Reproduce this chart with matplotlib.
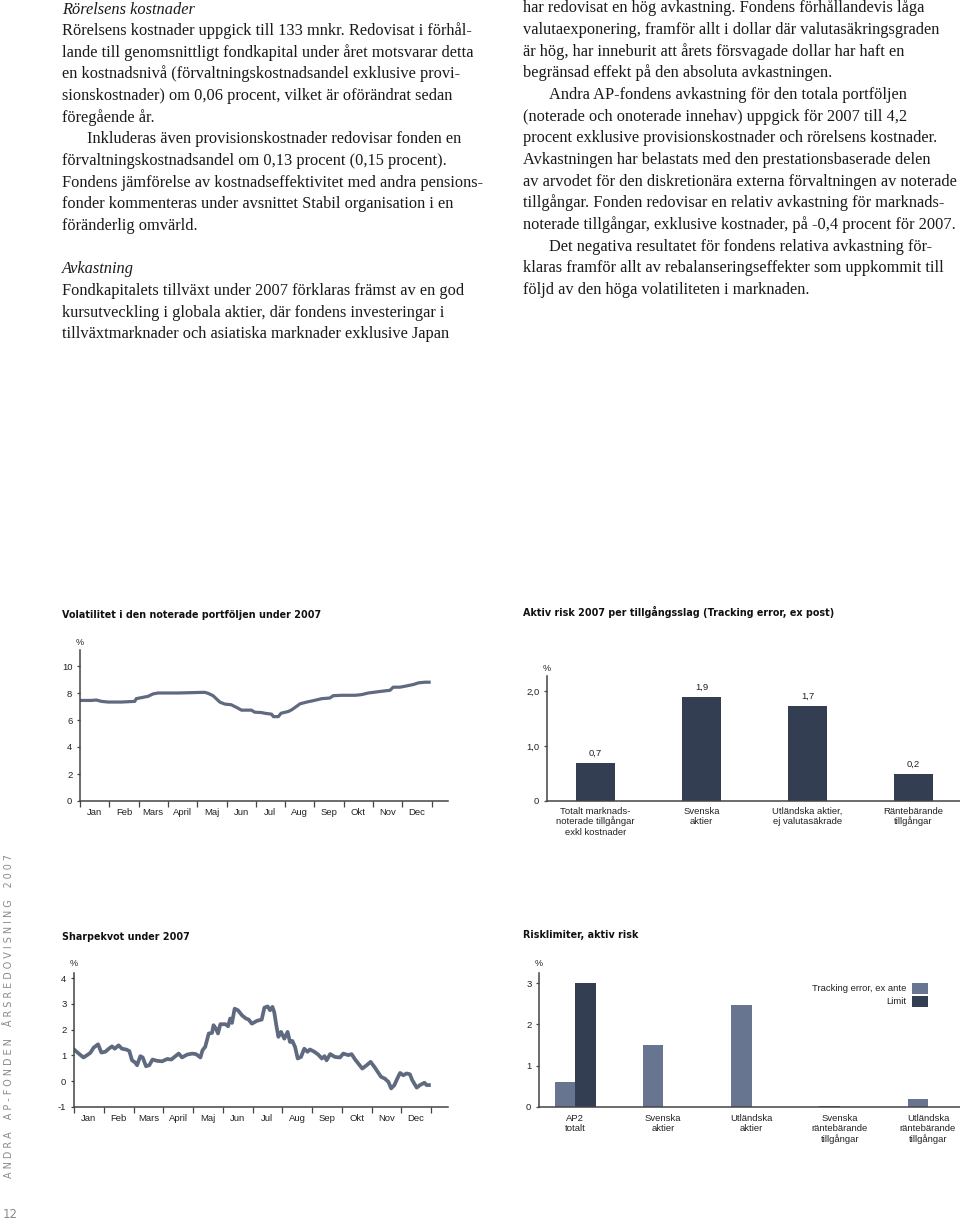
import matplotlib
matplotlib.use("Agg")
import matplotlib.pyplot as plt
from matplotlib.patches import Rectangle
import numpy as np

W, H = 960, 1221
fig = plt.figure(figsize=(W / 100, H / 100), dpi=100)
fig.patch.set_facecolor("white")

LINE = "#5f6a80"
LIGHT = "#687590"
DARK = "#343e52"
AXC = "#444444"
TXT = "#222222"
SANS = ["Liberation Sans", "DejaVu Sans"]
TITLE_FONT = ["DejaVu Sans"]
SERIF = ["Liberation Serif", "DejaVu Serif"]

# ---------------- data ----------------
months = ["Jan", "Feb", "Mars", "April", "Maj", "Jun", "Jul", "Aug", "Sep", "Okt", "Nov", "Dec"]

vol_x = [0.0, 0.39, 0.56, 0.73, 0.96, 1.41, 1.87, 1.92, 2.15, 2.32, 2.49, 2.66, 3.34, 4.25,
         4.37, 4.54, 4.65, 4.77, 4.94, 5.16, 5.28, 5.39, 5.51, 5.85, 5.96, 6.19, 6.31, 6.54,
         6.60, 6.77, 6.86, 7.11, 7.22, 7.34, 7.51, 7.74, 7.96, 8.25, 8.53, 8.64, 8.92, 9.39,
         9.61, 9.84, 10.30, 10.58, 10.69, 10.92, 11.09, 11.38, 11.55, 11.77, 11.97]
vol_y = [7.45, 7.45, 7.48, 7.38, 7.33, 7.33, 7.38, 7.58, 7.68, 7.75, 7.93, 8.0, 8.0, 8.05,
         7.98, 7.80, 7.58, 7.33, 7.18, 7.13, 7.0, 6.88, 6.73, 6.73, 6.58, 6.55, 6.50, 6.43,
         6.25, 6.25, 6.50, 6.63, 6.75, 6.93, 7.20, 7.33, 7.43, 7.58, 7.63, 7.80, 7.83, 7.83,
         7.88, 8.0, 8.13, 8.2, 8.43, 8.43, 8.5, 8.63, 8.75, 8.8, 8.8]

sharpe_x = [0.0, 0.16, 0.32, 0.44, 0.55, 0.66, 0.81, 0.92, 1.05, 1.17, 1.28, 1.37, 1.50, 1.61,
            1.75, 1.86, 1.95, 2.06, 2.12, 2.23, 2.31, 2.42, 2.53, 2.64, 2.79, 2.96, 3.13, 3.27,
            3.41, 3.52, 3.63, 3.80, 3.97, 4.10, 4.25, 4.32, 4.41, 4.53, 4.64, 4.69, 4.77, 4.84,
            4.92, 5.09, 5.18, 5.25, 5.31, 5.40, 5.51, 5.65, 5.78, 5.87, 5.98, 6.15, 6.31, 6.40,
            6.51, 6.59, 6.67, 6.73, 6.81, 6.87, 6.96, 7.07, 7.18, 7.26, 7.34, 7.43, 7.52, 7.63,
            7.74, 7.85, 7.93, 8.08, 8.21, 8.33, 8.42, 8.49, 8.61, 8.77, 8.94, 9.05, 9.22, 9.33,
            9.45, 9.56, 9.69, 9.84, 9.97, 10.10, 10.21, 10.32, 10.45, 10.57, 10.66, 10.77, 10.85,
            10.96, 11.07, 11.18, 11.29, 11.37, 11.52, 11.63, 11.78, 11.85, 11.93]
sharpe_y = [1.23, 1.07, 0.92, 1.01, 1.10, 1.30, 1.43, 1.11, 1.14, 1.26, 1.35, 1.26, 1.39, 1.26,
            1.23, 1.17, 0.81, 0.72, 0.62, 0.97, 0.92, 0.58, 0.62, 0.84, 0.79, 0.77, 0.86, 0.84,
            0.97, 1.07, 0.92, 1.03, 1.07, 1.05, 0.92, 1.20, 1.33, 1.85, 1.87, 2.17, 2.04, 1.85,
            2.21, 2.21, 2.13, 2.43, 2.26, 2.81, 2.75, 2.55, 2.43, 2.39, 2.23, 2.34, 2.39, 2.85,
            2.90, 2.75, 2.88, 2.68, 2.10, 1.72, 1.91, 1.65, 1.91, 1.52, 1.56, 1.33, 0.88, 0.94,
            1.26, 1.14, 1.23, 1.14, 1.03, 0.88, 0.97, 0.81, 1.05, 0.94, 0.92, 1.07, 1.01, 1.05,
            0.84, 0.68, 0.49, 0.62, 0.75, 0.55, 0.36, 0.17, 0.10, -0.03, -0.28, -0.15, 0.06,
            0.32, 0.23, 0.30, 0.27, 0.04, -0.25, -0.15, -0.06, -0.15, -0.15]

risk_cats = ["Totalt marknads-\nnoterade tillgångar\nexkl kostnader", "Svenska\naktier",
             "Utländska aktier,\nej valutasäkrade", "Räntebärande\ntillgångar"]
risk_heights = [0.7, 1.9, 1.73, 0.49]
risk_labels = ["0,7", "1,9", "1,7", "0,2"]

limit_cats = ["AP2\ntotalt", "Svenska\naktier", "Utländska\naktier",
              "Svenska\nräntebärande\ntillgångar", "Utländska\nräntebärande\ntillgångar"]
tracking_error = [0.6, 1.5, 2.47, 0.03, 0.2]
limit = [3.0, 0, 0, 0, 0]

left_text = [
    ("Rörelsens kostnader", "italic", 0),
    ("Rörelsens kostnader uppgick till 133 mnkr. Redovisat i förhål-", "normal", 0),
    ("lande till genomsnittligt fondkapital under året motsvarar detta", "normal", 0),
    ("en kostnadsnivå (förvaltningskostnadsandel exklusive provi-", "normal", 0),
    ("sionskostnader) om 0,06 procent, vilket är oförändrat sedan", "normal", 0),
    ("föregående år.", "normal", 0),
    ("Inkluderas även provisionskostnader redovisar fonden en", "normal", 1),
    ("förvaltningskostnadsandel om 0,13 procent (0,15 procent).", "normal", 0),
    ("Fondens jämförelse av kostnadseffektivitet med andra pensions-", "normal", 0),
    ("fonder kommenteras under avsnittet Stabil organisation i en", "normal", 0),
    ("föränderlig omvärld.", "normal", 0),
    ("", "normal", 0),
    ("Avkastning", "italic", 0),
    ("Fondkapitalets tillväxt under 2007 förklaras främst av en god", "normal", 0),
    ("kursutveckling i globala aktier, där fondens investeringar i", "normal", 0),
    ("tillväxtmarknader och asiatiska marknader exklusive Japan", "normal", 0),
]
right_text = [
    ("har redovisat en hög avkastning. Fondens förhållandevis låga", 0),
    ("valutaexponering, framför allt i dollar där valutasäkringsgraden", 0),
    ("är hög, har inneburit att årets försvagade dollar har haft en", 0),
    ("begränsad effekt på den absoluta avkastningen.", 0),
    ("Andra AP-fondens avkastning för den totala portföljen", 1),
    ("(noterade och onoterade innehav) uppgick för 2007 till 4,2", 0),
    ("procent exklusive provisionskostnader och rörelsens kostnader.", 0),
    ("Avkastningen har belastats med den prestationsbaserade delen", 0),
    ("av arvodet för den diskretionära externa förvaltningen av noterade", 0),
    ("tillgångar. Fonden redovisar en relativ avkastning för marknads-", 0),
    ("noterade tillgångar, exklusive kostnader, på -0,4 procent för 2007.", 0),
    ("Det negativa resultatet för fondens relativa avkastning för-", 1),
    ("klaras framför allt av rebalanseringseffekter som uppkommit till", 0),
    ("följd av den höga volatiliteten i marknaden.", 0),
]


# ---------------- helpers ----------------
def px_axes(l, t, r, b):
    return fig.add_axes([l / W, 1 - b / H, (r - l) / W, (b - t) / H])


def ftext(x, y, s, **kw):
    return fig.text(x / W, 1 - y / H, s, **kw)


def style_axes(ax):
    for s in ["top", "right"]:
        ax.spines[s].set_visible(False)
    for s in ["left", "bottom"]:
        ax.spines[s].set_color(AXC)
        ax.spines[s].set_linewidth(1.1)
    ax.tick_params(axis="y", length=2.5, width=0.9, color=AXC, pad=3, labelsize=6.8,
                   labelcolor=TXT)
    ax.set_facecolor("none")
    for lab in ax.get_yticklabels():
        lab.set_family(SANS)


def month_axis(ax):
    ax.set_xticks(np.arange(0, 13))
    ax.set_xticklabels([])
    ax.set_xticks(np.arange(12) + 0.5, minor=True)
    ax.set_xticklabels(months, minor=True, fontsize=6.8, color=TXT, family=SANS)
    ax.tick_params(axis="x", which="major", length=4.5, width=0.9, color=AXC, direction="out")
    ax.tick_params(axis="x", which="minor", length=0, pad=5)


# ---------------- body text ----------------
BODY = 11.8
LS = 21.65
for i, (s, st, ind) in enumerate(left_text):
    if s:
        ftext(62 + 25 * ind, 13.5 + i * LS, s, family=SERIF, style=st, fontsize=BODY,
              color="#1a1a1a", va="baseline", ha="left")
for i, (s, ind) in enumerate(right_text):
    ftext(523 + 26 * ind, 12.5 + i * LS, s, family=SERIF, fontsize=BODY,
          color="#1a1a1a", va="baseline", ha="left")

# ---------------- chart 1: volatility ----------------
ftext(62, 618, "Volatilitet i den noterade portföljen under 2007", family=TITLE_FONT,
      weight="bold", fontsize=6.9, color="#111111", va="baseline")
ax1 = px_axes(80, 650, 448, 801)
ax1.plot(vol_x, vol_y, color=LINE, lw=2.3, solid_capstyle="butt")
ax1.set_xlim(0, (448 - 80) / 29.3)
ax1.set_ylim(0, (801 - 650) / 13.5)
ax1.set_yticks([0, 2, 4, 6, 8, 10])
ax1.set_yticklabels(["0", "2", "4", "6", "8", "10"])
style_axes(ax1)
month_axis(ax1)
ftext(80, 645, "%", family=SANS, fontsize=6.5, color=TXT, ha="center", va="baseline")

# ---------------- chart 2: sharpe ----------------
ftext(62, 940, "Sharpekvot under 2007", family=TITLE_FONT, weight="bold", fontsize=6.9,
      color="#111111", va="baseline")
ax2 = px_axes(74, 973, 448, 1107)
ax2.plot(sharpe_x, sharpe_y, color=LINE, lw=2.7, solid_joinstyle="round")
ax2.set_xlim(0, (448 - 74) / 29.75)
ax2.set_ylim(-1, 4 + 5 / 25.8)
ax2.set_yticks([-1, 0, 1, 2, 3, 4])
ax2.set_yticklabels(["-1", "0", "1", "2", "3", "4"])
style_axes(ax2)
month_axis(ax2)
ftext(74, 966, "%", family=SANS, fontsize=6.5, color=TXT, ha="center", va="baseline")

# ---------------- chart 3: aktiv risk ----------------
ftext(523, 616, "Aktiv risk 2007 per tillgångsslag (Tracking error, ex post)",
      family=TITLE_FONT, weight="bold", fontsize=6.9, color="#111111", va="baseline")
ax3 = px_axes(547, 676, 960, 801)
xr = np.arange(len(risk_heights))
ax3.bar(xr, risk_heights, width=0.37, color=DARK)
for xi, h, lab in zip(xr, risk_heights, risk_labels):
    ax3.annotate(lab, (xi, h), xytext=(0, 3.5), textcoords="offset points", ha="center",
                 va="bottom", fontsize=6.8, color=TXT, family=SANS)
ax3.set_xlim(-48.5 / 106, 3 + (413 - 366.5) / 106)
ax3.set_ylim(0, (801 - 676) / 55)
ax3.set_yticks([0, 1, 2])
ax3.set_yticklabels(["0", "1,0", "2,0"])
style_axes(ax3)
ax3.set_xticks(xr)
ax3.set_xticklabels(risk_cats, fontsize=6.8, color=TXT, family=SANS, linespacing=1.15,
                    va="top")
ax3.tick_params(axis="x", length=0, pad=4)
ftext(547, 671, "%", family=SANS, fontsize=6.5, color=TXT, ha="center", va="baseline")

# ---------------- chart 4: risklimiter ----------------
ftext(523, 938, "Risklimiter, aktiv risk", family=TITLE_FONT, weight="bold", fontsize=6.9,
      color="#111111", va="baseline")
ax4 = px_axes(539, 973, 960, 1107)
xg = np.arange(len(tracking_error))
unit = 88.25
bw = 20.5 / unit
ax4.bar(xg, tracking_error, width=-bw, align="edge", color=LIGHT)
ax4.bar(xg, limit, width=bw, align="edge", color=DARK)
ax4.set_xlim(-(575 - 539) / unit, 4 + (960 - 928) / unit)
ax4.set_ylim(0, (1107 - 973) / 41.3)
ax4.set_yticks([0, 1, 2, 3])
ax4.set_yticklabels(["0", "1", "2", "3"])
style_axes(ax4)
ax4.set_xticks(xg)
ax4.set_xticklabels(limit_cats, fontsize=6.8, color=TXT, family=SANS, linespacing=1.15,
                    va="top")
ax4.tick_params(axis="x", length=0, pad=5)
ftext(539, 966, "%", family=SANS, fontsize=6.5, color=TXT, ha="center", va="baseline")

# legend
for (lab, col, yc) in [("Tracking error, ex ante", LIGHT, 988.5), ("Limit", DARK, 1001.5)]:
    ftext(906, yc, lab, family=SANS, fontsize=6.8, color=TXT, ha="right", va="center")
    fig.add_artist(Rectangle((912 / W, 1 - (yc + 5.5) / H), 16 / W, 11 / H,
                             transform=fig.transFigure, color=col, lw=0))

# ---------------- side text & page number ----------------
side = "A N D R A    A P - F O N D E N    Å R S R E D O V I S N I N G    2 0 0 7"
ftext(9, 1016, side, family=["DejaVu Sans"], fontsize=6.9, color="#8a8a8a", rotation=90,
      ha="center", va="center")
ftext(10, 1215, "12", family=["DejaVu Sans"], fontsize=8.5, color="#8a8a8a", ha="center",
      va="center")

fig.savefig("out.png", dpi=100, facecolor="white")
